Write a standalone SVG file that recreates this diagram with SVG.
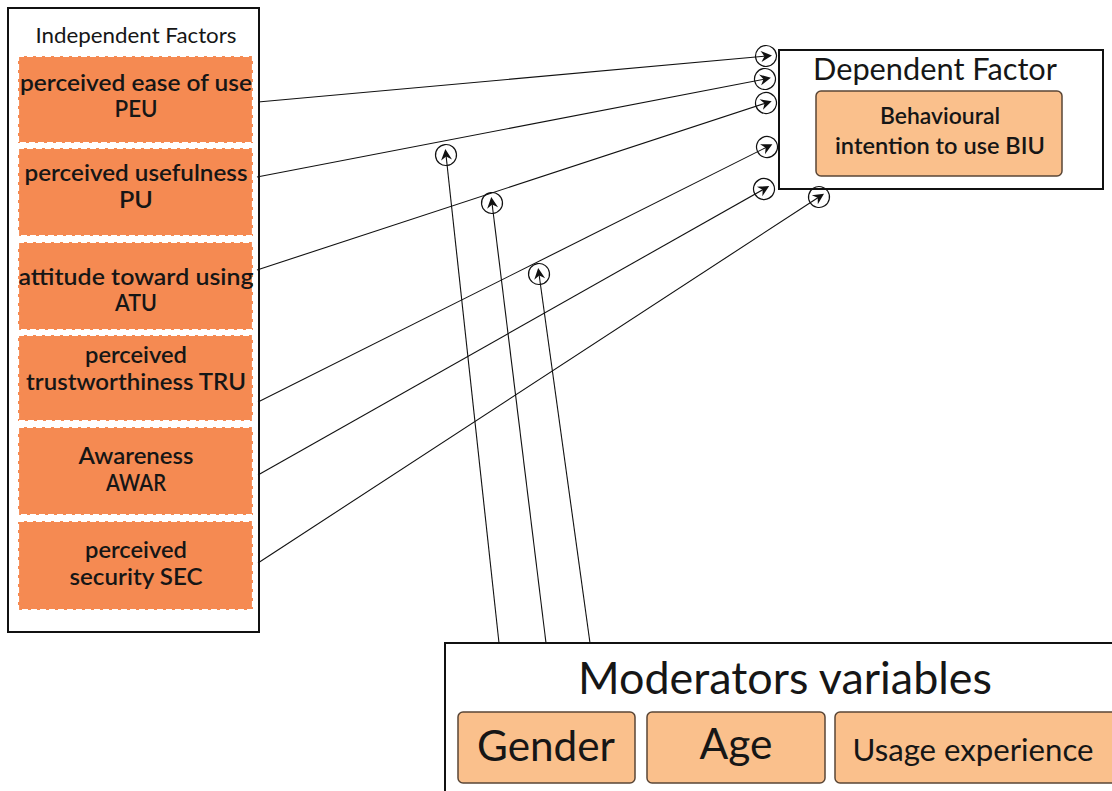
<svg xmlns="http://www.w3.org/2000/svg" width="1112" height="791" viewBox="0 0 1112 791">
  <style>
    .frame { fill: #ffffff; stroke: #111111; stroke-width: 2; }
    .factor { fill: #F58A52; stroke: #ffffff; stroke-width: 2.2; stroke-dasharray: 6 3; }
    .soft { fill: #FAC08C; stroke: #5a4636; stroke-width: 1.5; }
    .t { font-family: Lato, "Open Sans", sans-serif; fill: #161616; text-anchor: middle; }
    .lbl { font-size: 23px; font-weight: 600; }
    .link { fill: none; stroke: #111111; stroke-width: 1.1; marker-end: url(#ring); }
  </style>
  <defs>
    <!-- circled arrowhead used at every connector end -->
    <marker id="ring" viewBox="-13 -13 26 26" markerWidth="26" markerHeight="26" markerUnits="userSpaceOnUse" refX="0" refY="0" orient="auto">
      <circle cx="0" cy="0" r="10.5" fill="none" stroke="#111111" stroke-width="1.2"/>
      <path d="M6,0 L-5,-5.5 L-1.5,0 L-5,5.5 Z" fill="#111111"/>
    </marker>
  </defs>

  <!-- independent factors -->
  <g id="independent">
    <rect class="frame" x="8" y="8" width="251" height="624"/>
    <text class="t" x="136" y="43" font-size="22" textLength="201" lengthAdjust="spacingAndGlyphs">Independent Factors</text>
  </g>
  <g id="peu">
    <rect class="factor" x="18" y="56" width="235" height="87"/>
    <text class="t lbl" x="136" y="91" textLength="232" lengthAdjust="spacingAndGlyphs">perceived ease of use</text>
    <text class="t lbl" x="136" y="117" textLength="43" lengthAdjust="spacingAndGlyphs">PEU</text>
  </g>
  <g id="pu">
    <rect class="factor" x="18" y="148" width="235" height="88"/>
    <text class="t lbl" x="136" y="181" textLength="223" lengthAdjust="spacingAndGlyphs">perceived usefulness</text>
    <text class="t lbl" x="136" y="208" textLength="34" lengthAdjust="spacingAndGlyphs">PU</text>
  </g>
  <g id="atu">
    <rect class="factor" x="18" y="242" width="235" height="88"/>
    <text class="t lbl" x="136" y="285" textLength="235" lengthAdjust="spacingAndGlyphs">attitude toward using</text>
    <text class="t lbl" x="136" y="311" textLength="42" lengthAdjust="spacingAndGlyphs">ATU</text>
  </g>
  <g id="tru">
    <rect class="factor" x="18" y="335" width="235" height="86"/>
    <text class="t lbl" x="136" y="363" textLength="102" lengthAdjust="spacingAndGlyphs">perceived</text>
    <text class="t lbl" x="136" y="390" textLength="220" lengthAdjust="spacingAndGlyphs">trustworthiness TRU</text>
  </g>
  <g id="awar">
    <rect class="factor" x="18" y="427" width="235" height="88"/>
    <text class="t lbl" x="136" y="464" textLength="115" lengthAdjust="spacingAndGlyphs">Awareness</text>
    <text class="t lbl" x="136" y="491" textLength="60" lengthAdjust="spacingAndGlyphs">AWAR</text>
  </g>
  <g id="sec">
    <rect class="factor" x="18" y="521" width="235" height="89"/>
    <text class="t lbl" x="136" y="558" textLength="102" lengthAdjust="spacingAndGlyphs">perceived</text>
    <text class="t lbl" x="136" y="585" textLength="133" lengthAdjust="spacingAndGlyphs">security SEC</text>
  </g>

  <!-- dependent factor -->
  <g id="dependent">
    <rect class="frame" x="779" y="50" width="324" height="139"/>
    <text class="t" x="935" y="80" font-size="30" textLength="244" lengthAdjust="spacingAndGlyphs">Dependent Factor</text>
  </g>
  <g id="biu">
    <rect class="soft" x="816" y="91" width="246" height="85" rx="5"/>
    <text class="t lbl" x="940" y="124" textLength="120" lengthAdjust="spacingAndGlyphs">Behavioural</text>
    <text class="t lbl" x="940" y="154" textLength="210" lengthAdjust="spacingAndGlyphs">intention to use BIU</text>
  </g>

  <!-- moderators -->
  <g id="moderators">
    <rect class="frame" x="445" y="643" width="680" height="160"/>
    <text class="t" x="785" y="694" font-size="45" textLength="414" lengthAdjust="spacingAndGlyphs">Moderators variables</text>
  </g>
  <g id="gender">
    <rect class="soft" x="458" y="712" width="177" height="71" rx="5"/>
    <text class="t" x="546" y="761" font-size="43" textLength="138" lengthAdjust="spacingAndGlyphs">Gender</text>
  </g>
  <g id="age">
    <rect class="soft" x="647" y="712" width="178" height="71" rx="5"/>
    <text class="t" x="736" y="759" font-size="43" textLength="73" lengthAdjust="spacingAndGlyphs">Age</text>
  </g>
  <g id="usage">
    <rect class="soft" x="835" y="712" width="290" height="71" rx="5"/>
    <text class="t" x="973" y="761" font-size="31" textLength="241" lengthAdjust="spacingAndGlyphs">Usage experience</text>
  </g>

  <!-- connectors -->
  <g id="connectors">
    <line class="link" x1="258" y1="102" x2="766" y2="56"/>
    <line class="link" x1="257" y1="177" x2="765" y2="79"/>
    <line class="link" x1="257" y1="270" x2="766" y2="103"/>
    <line class="link" x1="258" y1="402" x2="767" y2="147"/>
    <line class="link" x1="258" y1="475" x2="764" y2="189"/>
    <line class="link" x1="258" y1="563" x2="819" y2="197"/>
    <line class="link" x1="499" y1="643" x2="446" y2="155"/>
    <line class="link" x1="546" y1="643" x2="492" y2="203"/>
    <line class="link" x1="590" y1="643" x2="539" y2="274"/>
  </g>
</svg>
